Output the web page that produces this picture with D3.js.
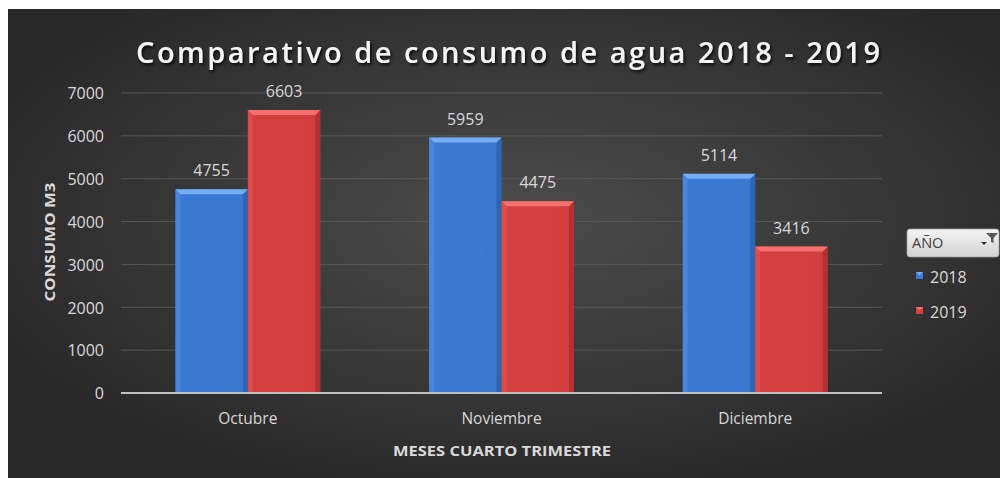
<!DOCTYPE html>
<html><head><meta charset="utf-8">
<script src="https://cdn.jsdelivr.net/npm/d3@7"></script>
<style>body{margin:0;background:#fff}svg{display:block}</style>
</head><body>
<svg id="c" width="1000" height="478"></svg>
<script>
const categories = ["Octubre", "Noviembre", "Diciembre"];
const seriesNames = ["2018", "2019"];
const values2018 = [4755, 5959, 5114];
const values2019 = [6603, 4475, 3416];
const yTicks = [0, 1000, 2000, 3000, 4000, 5000, 6000, 7000];
const title = "Comparativo de consumo de agua 2018 - 2019";
const yTitle = "CONSUMO M3";
const xTitle = "MESES CUARTO TRIMESTRE";
const legendTitle = "AÑO";

const colors = {"2018": {base:"#3b79d2", mid:"#3a76cd", light:"#74adf2", dark:"#2a5ea8"},
                "2019": {base:"#d63f3f", mid:"#d03c3c", light:"#f47070", dark:"#a82c2c"}};
const FONT = "'Open Sans', 'DejaVu Sans', sans-serif";

const svg = d3.select("#c");
const defs = svg.append("defs");
const bg = defs.append("radialGradient").attr("id","bg").attr("cx","52%").attr("cy","45%").attr("r","62%");
bg.append("stop").attr("offset","0%").attr("stop-color","#4c4c4c");
bg.append("stop").attr("offset","100%").attr("stop-color","#272727");
const lg = defs.append("linearGradient").attr("id","lgbox").attr("x1",0).attr("y1",0).attr("x2",0).attr("y2",1);
lg.append("stop").attr("offset","0%").attr("stop-color","#f4f4f4");
lg.append("stop").attr("offset","100%").attr("stop-color","#d2d2d2");
seriesNames.forEach(s => {
  const g = defs.append("linearGradient").attr("id","bar"+s).attr("x1",0).attr("y1",0).attr("x2",1).attr("y2",0);
  g.append("stop").attr("offset","0%").attr("stop-color",colors[s].base);
  g.append("stop").attr("offset","70%").attr("stop-color",colors[s].base);
  g.append("stop").attr("offset","100%").attr("stop-color",colors[s].mid);
});
const sh = defs.append("filter").attr("id","tsh").attr("x","-5%").attr("y","-20%").attr("width","110%").attr("height","160%");
sh.append("feDropShadow").attr("dx",1.5).attr("dy",2).attr("stdDeviation",1.5).attr("flood-color","#000").attr("flood-opacity",0.8);

svg.append("rect").attr("x",8).attr("y",9).attr("width",992).attr("height",469).attr("fill","url(#bg)");

const x0 = d3.scaleBand().domain(categories).range([121, 882]).padding(0);
const x1 = d3.scaleBand().domain(seriesNames).range([0, x0.bandwidth()]).paddingInner(0).paddingOuter(0.75);
const y = d3.scaleLinear().domain([0, 7000]).range([393, 93]);

// gridlines
svg.append("g").selectAll("line").data(yTicks.filter(t => t > 0)).join("line")
  .attr("x1",121).attr("x2",882).attr("y1",d=>y(d)).attr("y2",d=>y(d))
  .attr("stroke","#585858").attr("stroke-width",1);

// y tick labels
const yAxis = d3.axisLeft(y).tickValues(yTicks).tickSize(0).tickPadding(0).tickFormat(d3.format("d"));
const ya = svg.append("g").attr("transform","translate(104,0)").call(yAxis);
ya.select(".domain").remove();
ya.selectAll("text").attr("fill","#d9d9d9").style("font-family",FONT).style("font-size","16px").attr("dy","0.36em");

// bars
const data = categories.map((c,i) => ({cat:c, vals:[{s:"2018", v:values2018[i]},{s:"2019", v:values2019[i]}]}));
const groups = svg.append("g").selectAll("g").data(data).join("g")
  .attr("transform", d => `translate(${x0(d.cat)},0)`);
const bars = groups.selectAll("g").data(d => d.vals).join("g");
bars.each(function(d){
  const g = d3.select(this);
  const bx = x1(d.s), bw = x1.bandwidth(), top = y(d.v), bot = y(0), b = 5;
  g.append("rect").attr("x",bx).attr("y",top).attr("width",bw).attr("height",bot-top).attr("fill","url(#bar"+d.s+")");
  g.append("path").attr("d",`M${bx},${top}L${bx+b},${top+b}L${bx+b},${bot}L${bx},${bot}Z`).attr("fill",colors[d.s].light).attr("opacity",0.25);
  g.append("path").attr("d",`M${bx+bw},${top}L${bx+bw-b},${top+b}L${bx+bw-b},${bot}L${bx+bw},${bot}Z`).attr("fill",colors[d.s].dark).attr("opacity",0.7);
  g.append("path").attr("d",`M${bx},${top}L${bx+bw},${top}L${bx+bw-b},${top+b}L${bx+b},${top+b}Z`).attr("fill",colors[d.s].light);
  g.append("text").attr("x",bx+bw/2).attr("y",top-13).attr("text-anchor","middle")
    .attr("fill","#d9d9d9").style("font-family",FONT).style("font-size","16px").text(d.v);
});

// baseline
svg.append("line").attr("x1",121).attr("x2",882).attr("y1",y(0)).attr("y2",y(0)).attr("stroke","#bfbfbf").attr("stroke-width",2);

// x axis labels
const xAxis = d3.axisBottom(x0).tickSize(0).tickPadding(0);
const xa = svg.append("g").attr("transform","translate(0,424)").call(xAxis);
xa.select(".domain").remove();
xa.selectAll("text").attr("fill","#d9d9d9").attr("dy",0).style("font-family",FONT).style("font-size","15.5px");

// titles
svg.append("text").attr("x",508).attr("y",63).attr("text-anchor","middle").attr("fill","#f4f4f4")
  .attr("filter","url(#tsh)").style("font-family",FONT).style("font-weight","600").style("font-size","29px")
  .attr("textLength",744).attr("lengthAdjust","spacing").text(title);
svg.append("text").attr("transform","translate(55,242) rotate(-90)").attr("text-anchor","middle").attr("fill","#d9d9d9")
  .style("font-family",FONT).style("font-weight","bold").style("font-size","15px")
  .attr("textLength",119).attr("lengthAdjust","spacingAndGlyphs").text(yTitle);
svg.append("text").attr("x",502).attr("y",456).attr("text-anchor","middle").attr("fill","#d9d9d9")
  .style("font-family",FONT).style("font-weight","bold").style("font-size","15px")
  .attr("textLength",218).attr("lengthAdjust","spacingAndGlyphs").text(xTitle);

// legend
const lgG = svg.append("g");
lgG.append("rect").attr("x",907).attr("y",229).attr("width",92).attr("height",28).attr("rx",3)
  .attr("fill","url(#lgbox)").attr("stroke","#a0a0a0").attr("stroke-width",0.8);
lgG.append("text").attr("x",912).attr("y",248).attr("fill","#404040").style("font-family",FONT).style("font-size","14.5px").text(legendTitle);
lgG.append("path").attr("d","M986,233L998,233L993.5,238L993.5,243L991,242L991,238Z").attr("fill","#555");
lgG.append("path").attr("d","M981,242L987,242L984,245Z").attr("fill","#333");
const items = lgG.selectAll("g.it").data(seriesNames).join("g").attr("class","it")
  .attr("transform",(d,i)=>`translate(916,${272 + i*35})`);
items.append("rect").attr("width",7).attr("height",7).attr("fill",d=>colors[d].base);
items.append("path").attr("d","M0,0L7,0L3.5,3.5Z").attr("fill",d=>colors[d].light);
items.append("text").attr("x",14).attr("y",11).attr("fill","#d9d9d9").style("font-family",FONT).style("font-size","16px").text(d=>d);
</script>
</body></html>
